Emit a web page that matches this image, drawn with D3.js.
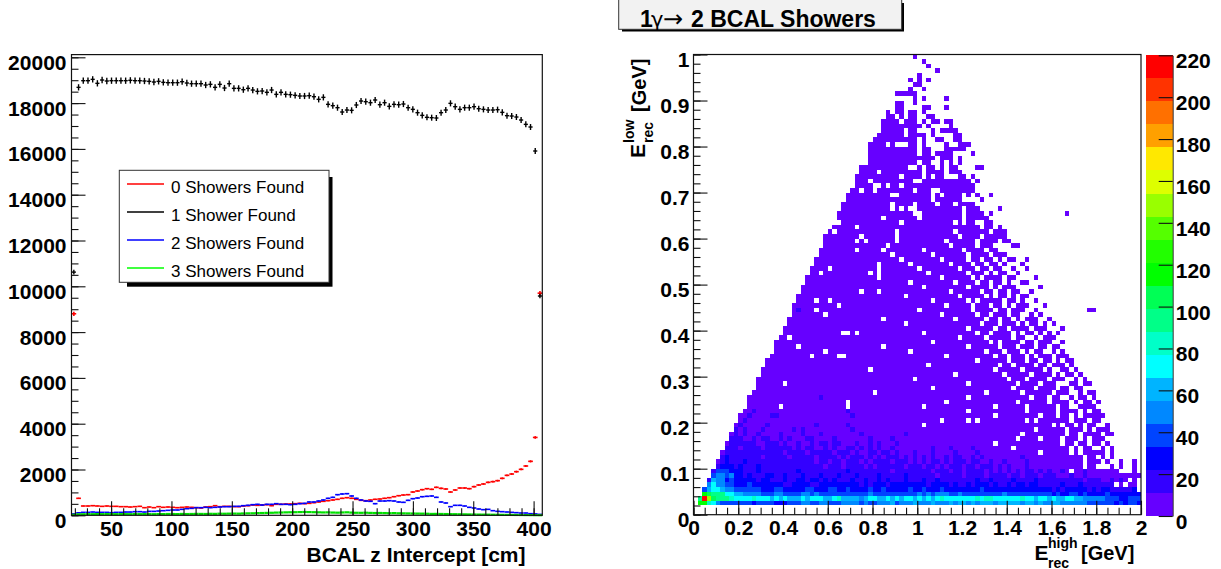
<!DOCTYPE html>
<html>
<head>
<meta charset="utf-8">
<script src="https://cdn.jsdelivr.net/npm/d3@7"></script>
<style>
  body { margin: 0; background: #fff; }
  svg { display: block; }
  text { font-family: "Liberation Sans", Arial, sans-serif; fill: #000; }
  .bold text, text.bold { font-weight: bold; font-size: 21px; }
</style>
</head>
<body>
<svg id="chart" width="1221" height="569"></svg>
<script>
// ---- left plot: one value per z bin (100 bins, 3.9 cm wide, first edge 17.2 cm)
const zBinStart = 17.2;
const zBinWidth = 3.9;

const zeroShowers = [
  8800, 741, 406, 406, 420, 406, 391, 406, 391, 391,
  377, 377, 362, 377, 391, 333, 362, 333, 377, 348,
  362, 348, 333, 348, 362, 348, 333, 319, 362, 377,
  420, 377, 391, 391, 377, 377, 406, 420, 450, 435,
  450, 464, 420, 479, 479, 493, 493, 508, 522, 508,
  522, 552, 581, 610, 639, 668, 697, 741, 770, 741,
  697, 653, 639, 668, 697, 712, 741, 770, 813, 857,
  886, 901, 1017, 1061, 1119, 1163, 1134, 1221, 1177, 1148,
  1017, 1105, 1192, 1192, 1163, 1250, 1323, 1367, 1439, 1469,
  1512, 1614, 1745, 1803, 1905, 2007, 2153, 2356, 3400, 9700
];
const oneShower = [
  10620, 18688, 18979, 18979, 19037, 18863, 19008, 18965, 18979, 18979,
  18979, 18979, 18994, 18979, 18979, 18965, 18950, 18921, 18950, 18906,
  18892, 18892, 18892, 18935, 18877, 18848, 18848, 18848, 18790, 18819,
  18688, 18819, 18659, 18848, 18644, 18644, 18586, 18644, 18571, 18513,
  18528, 18470, 18571, 18382, 18470, 18382, 18368, 18339, 18310, 18310,
  18324, 18280, 18164, 18251, 17946, 17888, 17800, 17611, 17698, 17684,
  17917, 18091, 18062, 18018, 18135, 17931, 18018, 17858, 17946, 17931,
  17960, 17800, 17727, 17582, 17465, 17378, 17363, 17349, 17582, 17698,
  17989, 17844, 17727, 17800, 17800, 17844, 17756, 17727, 17698, 17698,
  17713, 17596, 17451, 17436, 17393, 17262, 17072, 16956, 15908, 9576
];
const twoShowers = [
  60, 110, 129, 129, 143, 129, 129, 129, 115, 129,
  129, 143, 143, 158, 158, 143, 172, 172, 187, 201,
  216, 231, 231, 260, 289, 303, 333, 333, 348, 333,
  348, 362, 377, 377, 391, 391, 420, 435, 464, 479,
  450, 479, 479, 508, 479, 479, 464, 479, 508, 522,
  581, 581, 624, 668, 741, 784, 901, 930, 945, 843,
  741, 668, 624, 610, 508, 624, 624, 639, 624, 581,
  566, 653, 726, 755, 813, 828, 843, 784, 581, 537,
  377, 435, 435, 406, 348, 319, 275, 246, 260, 202,
  173, 158, 144, 129, 115, 100, 100, 71, 60, 40
];
const threeShowers = [
  20, 40, 45, 50, 48, 52, 50, 55, 50, 48,
  52, 50, 48, 55, 50, 52, 50, 48, 55, 52,
  58, 55, 52, 60, 55, 58, 62, 60, 58, 65,
  62, 70, 68, 72, 75, 72, 80, 85, 88, 95,
  100, 105, 110, 118, 122, 128, 132, 135, 140, 144,
  140, 135, 130, 125, 128, 120, 115, 125, 130, 118,
  110, 108, 112, 105, 100, 102, 98, 92, 95, 88,
  85, 82, 78, 75, 72, 68, 60, 62, 58, 55,
  50, 48, 45, 42, 38, 35, 32, 30, 28, 25,
  22, 20, 18, 16, 14, 12, 10, 8, 6, 4
];
const legendLabels = ["0 Showers Found", "1 Shower Found", "2 Showers Found", "3 Showers Found"];
const legendColors = ["#ff0000", "#000000", "#0000ff", "#00ff00"];

const leftYTicks = [0, 2000, 4000, 6000, 8000, 10000, 12000, 14000, 16000, 18000, 20000];
const leftXTicks = [50, 100, 150, 200, 250, 300, 350, 400];

// ---- right plot: 100x100 bins, 0.02 x 0.01 GeV. Level = colour band (1..20, base 21 digit)
const bandColors = [
  "#6600ff", "#3300ff", "#0000ff", "#0044ff", "#0088ff",
  "#00b4ff", "#00ffff", "#00ffc8", "#00ff88", "#00ff55",
  "#00ff00", "#22ff00", "#55ff00", "#99ff00", "#ddff00",
  "#ffe800", "#ffa000", "#ff7000", "#ff3300", "#ff0000"
];
const colorTicks = [0, 20, 40, 60, 80, 100, 120, 140, 160, 180, 200, 220];

// bottom rows, iy = 2.. going up, one char per x bin
const lowRows = [
  ".bb8754444 4443444433 3444554455 4445555454 4555645556 5556555656 6565666566 6665665655 6655555544 4444343443",
  ".9kea99987 7778777676 7666767776 6786666567 7667676776 7676787777 7778788777 7778776776 7667766555 5544433444",
  "..ba999776 6555544455 4444554544 4444444445 4444444444 5454555445 4444444445 4444444444 3433443433 3343333333",
  "..46776554 4444433344 3333344333 4433433334 3343333343 3433343333 3333433333 3333333333 2323333323 233222223.",
  "...5755443 3343333333 2233332233 3333333232 3332333333 3323333232 2323332322 3233233222 2232223222 2222.1.11.",
  "...2655343 3333233222 3223323323 2322232232 2323222322 2322322222 2223223222 2322223222 2222222122 2112121.1.",
  "....455453 3232223322 3222322232 2232223222 2322222322 2222122222 1222212222 1221222122 2111211211 1111111111",
  "....244433 3222322222 2223222222 2222322222 2222122222 2221222122 1222212121 2121221212 1121.11211 11111...1.",
  ".....23332 3222322222 2222222221 2221222212 1222222122 2122121222 1221222121 2111211111 1111111.11 ...1.1..1.",
  ".....12322 2322222222 2222222122 1221222121 2222122212 1212212122 2122112112 1111211111 1111111.11 1.1..1..1.",
  "......2322 2222212222 2122222122 2212122212 1212221212 1212112122 1121211111 1112111111 1111111.11 .1.1......",
  "......1222 2222222222 1222212222 2122212112 2122121112 1112111121 1112111111 1111111.11 1111.1.111 11.1......",
  ".......222 1222212222 2212122112 1211221212 1211211111 1112111211 1121111111 1.11111111 1111.1.11. .1.1......",
  ".......122 2222112221 2112112122 1221112112 1211121111 1111111111 1111111.11 1111111111 11.11.11.1 1.1.......",
  "........22 2112122112 1211122111 1211111112 1111211111 1111111111 1111111111 11.1111.11 11.111.1.1 11........",
  "........12 1211211112 1111211121 1111111211 1111111211 1111111111 1111111111 111.111111 111.11.111 1.11......",
  ".........2 1211121111 1121211111 1111121111 1111111111 1111111111 1111111111 111111.111 111.111.1. 111.......",
  ".........1 2111112111 1111111211 1111211111 1111111111 1.11111111 1111111111 1111111111 .1.11.1.11 ..1.......",
  ".......... 1211111111 1111111111 1111111111 1111111111 11111.1111 1.1.111111 1111.1.111 1111.111.1 1.........",
  ".......... 1121111221 1111111111 1111121111 1111111111 1111111111 1111111.11 1111111.11 1.11.1.111 11........",
  ".......... .112111111 1111111111 1111211111 1111111111 1111111111 1.11111111 1111.11111 1.1111.1.1 1........."
];
const lowRowStart = 2;

// upper rows: [iy, filled x bin spans], all in the lowest colour band
const upperRows = [
  [23, "12-18 20-33 35-50 52-66 68-73 75-80 82-83 86-89"], [24, "12-33 35-55 57-71 73-78 80-83 85 87-88 90"],
  [25, "12-60 62-74 76-78 80-81 84 86-87 89"], [26, "13-39 41-64 66-72 74-79 81-83 86 88-89"],
  [27, "14-52 54-70 72-75 77-80 82-83 85-86"], [28, "14-19 21-60 62-71 73-76 78-80 84-85 87-88"],
  [29, "14-48 50-69 71-73 75-78 80-82 85 87"], [30, "15-57 59-68 70-74 76-79 81 83-84 86"],
  [31, "15-38 40-66 68-72 74-77 79 82-83 85"], [32, "16-51 53-67 69-70 72-75 77-78 80-82 84"],
  [33, "16-62 64-69 71-73 75-76 78-79 81 83-84"], [34, "17-25 27-31 34-55 57-66 68-69 71-73 75 77-79 81-83"],
  [35, "18-28 30-47 49-64 66-68 70-72 74 76-77 80 82"], [36, "18-22 24-41 43-60 62-67 69-71 73-75 77-78 80-81"],
  [37, "18-52 54-65 67 69-72 74-75 77-79 82"], [38, "19-20 22-58 60-64 66-70 72-73 76 78-80"],
  [39, "20-32 35 37-50 52-62 64-65 67-70 72 74-75 77 79 81"], [40, "20-60 62-66 68-69 71-74 76-78 82"],
  [41, "21-46 48-63 65-67 69-71 73 75-76 78 80"], [42, "21-41 43-57 59-64 66-67 69-70 72 74-76 79"],
  [43, "22-28 30-54 56-62 64-65 67-69 71-72 75 77"], [44, "22-26 28-49 51-61 63-66 68-69 71-73 76 88-89"],
  [45, "22-31 33-55 57-61 63-65 67-68 70 72-74 78"], [46, "23-26 28-29 31-52 54-60 62 64-68 70-71 73 76"],
  [47, "23-46 48-58 60-64 66 68-69 71 73-74"], [48, "24-36 38-40 42-56 58-63 65-66 68-69 71-72 75"],
  [49, "24-50 52-60 62-65 67 69-71 77"], [50, "25-47 49-57 59-62 64-65 67-68 70 73-74"],
  [51, "25-40 42-54 56-61 63 65-68 70-71 76"], [52, "26-27 29-38 40 42-51 53-60 62-64 66 68-69 72"],
  [53, "26-29 31-40 42-49 51-58 60-62 64-65 67-68 71 74"], [54, "27-40 42-47 49-56 58-61 63-64 66-67 69 73"],
  [55, "27-45 47-54 56-60 62-63 65-66 68 70-71 74"], [56, "28-43 45-52 54-60 62-65 67-69"],
  [57, "28-35 37-41 43-50 52-59 61-64 66-67"], [58, "29-42 44-56 58-62 64-66 71-72"],
  [59, "29-35 37 39-44 46-55 57-62 64-67 69-70"], [60, "29-36 38-44 46-58 60-63 65-69"],
  [61, "30 32-44 46-57 59-65 67-69"], [62, "31-35 37-63 65-66 68"],
  [63, "33-45 47-57 59 61-62 65-66"], [64, "32-41 43-49 51-59 61-65"],
  [65, "32-48 51-59 61-64 66 83"], [66, "33-43 45 47 50-59 61-63 68"],
  [67, "33-43 45-48 50-53 55-57 59-62"], [68, "34-52 54-59 64"],
  [69, "34-43 46-52 54 56-59 61 63 66"], [70, "35-36 38-39 41-48 50-52 55-61 62"],
  [71, "36-39 42 44-45 47-62"], [72, "36-38 40-48 51-61 63"],
  [73, "36-45 47-50 52 54-55 59-60 62"], [74, "37-40 42-50 52-55 57-59"],
  [75, "37-47 50 52-53 55 57-58 63-64"], [76, "39-49 51-52 55 57 59"],
  [77, "39-53 55-57 59"], [78, "39-49 51-52 54-57 62"],
  [79, "39-49 51-52 56-60"], [80, "39-42 44 48-49 51 56 59-61"],
  [81, "40-49 51 54-55 58-59"], [82, "41-46 48-51 53 58-59"],
  [83, "42-46 48-49 53 55-58"], [84, "42-50 52 57"],
  [85, "42-45 47-49 51 53-54 56-57"], [86, "43-44 46 48-49 52-53"],
  [87, "43 45-46 48-49 51"], [88, "45-46 51-52 56"],
  [89, "45-46 49"], [90, "49 51 56"],
  [91, "45-49"], [92, "48 51"],
  [93, "49-50"], [94, "48 50 52"],
  [95, "50"], [96, "54"],
  [97, "52"], [98, "51"],
  [99, "49"]
];
// few second band cells above the low rows [ix, iy]
const upperBand2 = [[19, 23], [28, 25], [23, 44]];

// ---- layout
const svg = d3.select("#chart");

const xLeft = d3.scaleLinear().domain([zBinStart, zBinStart + 100 * zBinWidth]).range([71.5, 542.3]);
const yLeft = d3.scaleLinear().domain([0, 20118]).range([515.3, 54.6]);
const xRight = d3.scaleLinear().domain([0, 2]).range([693.5, 1141]);
const yRight = d3.scaleLinear().domain([0, 1]).range([514.7, 54.5]);
const zAxisScale = d3.scaleLinear().domain([0, 220]).range([516, 55.3]);

function styleLabels(g, yOffset, isX) {
  g.select(".domain").remove();
  g.selectAll("line").attr("stroke", "#111").attr("stroke-width", 1.1);
  g.selectAll("text").attr("class", "bold").attr("dy", 0);
  if (isX) g.selectAll("text").attr("y", yOffset);
  else g.selectAll("text").attr("y", yOffset);
}

function drawAxes(xs, ys, xMajor, xMinor, yMajor, yMinor, xFmt, yFmt, xOff, yPad) {
  const h = ys.range()[0];
  const l = xs.range()[0];
  svg.append("g").attr("transform", `translate(0,${h})`)
    .call(d3.axisBottom(xs).tickValues(xMinor).tickSizeInner(-7).tickSizeOuter(0).tickFormat(""))
    .call(styleLabels, 0, true);
  svg.append("g").attr("transform", `translate(0,${h})`)
    .call(d3.axisBottom(xs).tickValues(xMajor).tickSizeInner(-14).tickSizeOuter(0).tickPadding(0).tickFormat(xFmt))
    .call(styleLabels, xOff, true);
  svg.append("g").attr("transform", `translate(${l},0)`)
    .call(d3.axisLeft(ys).tickValues(yMinor).tickSizeInner(-7).tickSizeOuter(0).tickFormat(""))
    .call(styleLabels, 0, false);
  svg.append("g").attr("transform", `translate(${l},0)`)
    .call(d3.axisLeft(ys).tickValues(yMajor).tickSizeInner(-14).tickSizeOuter(0).tickPadding(yPad).tickFormat(yFmt))
    .call(styleLabels, 12, false);
  // frame
  svg.append("rect")
    .attr("x", l).attr("y", ys.range()[1])
    .attr("width", xs.range()[1] - l).attr("height", h - ys.range()[1])
    .attr("fill", "none").attr("stroke", "#111").attr("stroke-width", 1.2);
}

// ---- left plot
function drawCrosses(values, color, sw, halfWidth) {
  const g = svg.append("g").attr("stroke", color).attr("stroke-width", sw);
  const binCenter = i => zBinStart + (i + 0.5) * zBinWidth;
  g.selectAll("line.h").data(values).join("line").attr("class", "h")
    .attr("x1", (d, i) => xLeft(binCenter(i) - zBinWidth * halfWidth))
    .attr("x2", (d, i) => xLeft(binCenter(i) + zBinWidth * halfWidth))
    .attr("y1", d => yLeft(d)).attr("y2", d => yLeft(d));
  g.selectAll("line.v").data(values).join("line").attr("class", "v")
    .attr("x1", (d, i) => xLeft(binCenter(i))).attr("x2", (d, i) => xLeft(binCenter(i)))
    .attr("y1", d => yLeft(d - Math.sqrt(d))).attr("y2", d => yLeft(d + Math.sqrt(d)));
}

drawCrosses(zeroShowers, "#ff0000", 1.6, 0.5);
drawCrosses(oneShower, "#000", 1.4, 0.44);
drawCrosses(twoShowers, "#0000ff", 1.6, 0.5);
drawCrosses(threeShowers, "#00e000", 2.2, 0.5);

drawAxes(xLeft, yLeft, leftXTicks, d3.range(20, 407, 10), leftYTicks, d3.range(0, 20001, 500),
  d3.format("d"), d3.format("d"), 21, 5);

svg.append("text").attr("class", "bold").attr("x", 525.5).attr("y", 562)
  .attr("text-anchor", "end").text("BCAL z Intercept [cm]");

// legend
svg.append("rect").attr("x", 127).attr("y", 177).attr("width", 205.5).attr("height", 109.7).attr("fill", "#000");
svg.append("rect").attr("x", 119.3).attr("y", 170.3).attr("width", 209.7).attr("height", 112)
  .attr("fill", "#fff").attr("stroke", "#333").attr("stroke-width", 1);
const legendRow = svg.selectAll("g.legend").data(legendLabels).join("g").attr("class", "legend")
  .attr("transform", (d, i) => `translate(0,${184 + i * 28})`);
legendRow.append("line").attr("x1", 127).attr("x2", 164)
  .attr("stroke", (d, i) => legendColors[i]).attr("stroke-width", 1.3);
legendRow.append("text").attr("x", 171).attr("y", 8.8).attr("font-size", 17).text(d => d);

// ---- right plot
function parseSpans(spec) {
  return spec.split(" ").flatMap(s => {
    const [a, b] = s.split("-").map(Number);
    return d3.range(a, (b === undefined ? a : b) + 1);
  });
}

const cells = [];
lowRows.forEach((row, r) => {
  Array.from(row.replace(/ /g, "")).forEach((c, ix) => {
    if (c !== ".") cells.push({ ix, iy: lowRowStart + r, level: parseInt(c, 21) });
  });
});
upperRows.forEach(([iy, spec]) => {
  parseSpans(spec).forEach(ix => {
    const band2 = upperBand2.some(p => p[0] === ix && p[1] === iy);
    cells.push({ ix, iy, level: band2 ? 2 : 1 });
  });
});

svg.append("g").attr("shape-rendering", "crispEdges")
  .selectAll("rect").data(cells).join("rect")
  .attr("x", d => xRight(d.ix * 0.02))
  .attr("y", d => yRight((d.iy + 1) * 0.01))
  .attr("width", d => xRight((d.ix + 1) * 0.02) - xRight(d.ix * 0.02))
  .attr("height", d => yRight(d.iy * 0.01) - yRight((d.iy + 1) * 0.01))
  .attr("fill", d => bandColors[d.level - 1]);

drawAxes(xRight, yRight,
  [0, 0.2, 0.4, 0.6, 0.8, 1, 1.2, 1.4, 1.6, 1.8, 2], d3.range(0, 2.001, 0.05),
  [0, 0.1, 0.2, 0.3, 0.4, 0.5, 0.6, 0.7, 0.8, 0.9, 1], d3.range(0, 1.001, 0.02),
  d => d, d => d, 20, 4);

// axis titles with sub/superscripts
const xTitle = svg.append("g");
xTitle.append("text").attr("class", "bold").attr("x", 1034.5).attr("y", 560).text("E");
xTitle.append("text").attr("x", 1048).attr("y", 548).attr("font-size", 14).attr("font-weight", "bold").text("high");
xTitle.append("text").attr("x", 1048).attr("y", 567.5).attr("font-size", 14).attr("font-weight", "bold").text("rec");
xTitle.append("text").attr("x", 1081).attr("y", 560).attr("font-size", 20).attr("font-weight", "bold").text("[GeV]");

const yTitle = svg.append("g");
yTitle.append("text").attr("transform", "translate(645,158) rotate(-90)").attr("class", "bold").text("E");
yTitle.append("text").attr("transform", "translate(634,143) rotate(-90)").attr("font-size", 14).attr("font-weight", "bold").text("low");
yTitle.append("text").attr("transform", "translate(653,143) rotate(-90)").attr("font-size", 14).attr("font-weight", "bold").text("rec");
yTitle.append("text").attr("transform", "translate(646,112) rotate(-90)").attr("font-size", 20).attr("font-weight", "bold").text("[GeV]");

// colour bar
const bandStep = 220 / bandColors.length;
svg.append("g").attr("shape-rendering", "crispEdges")
  .selectAll("rect").data(bandColors).join("rect")
  .attr("x", 1146).attr("width", 26.7)
  .attr("y", (d, i) => zAxisScale((i + 1) * bandStep))
  .attr("height", (d, i) => zAxisScale(i * bandStep) - zAxisScale((i + 1) * bandStep))
  .attr("fill", d => d);
svg.append("g").attr("transform", "translate(1172.7,0)")
  .call(d3.axisRight(zAxisScale).tickValues(colorTicks).tickSizeInner(-14).tickSizeOuter(0).tickPadding(3))
  .call(g => {
    g.select(".domain").attr("stroke", "#333");
    g.selectAll("line").attr("stroke", "#111").attr("stroke-width", 1.1);
    g.selectAll("text").attr("class", "bold").attr("dy", 0).attr("y", 12.5);
  });

// title box
svg.append("rect").attr("x", 622).attr("y", 3).attr("width", 282).attr("height", 28.5).attr("fill", "#000");
svg.append("rect").attr("x", 618.7).attr("y", -1).attr("width", 283).attr("height", 30.3)
  .attr("fill", "#f2f2f2").attr("stroke", "#333").attr("stroke-width", 1);
const title = svg.append("text").attr("y", 26.7).attr("font-size", 23).attr("font-weight", "bold");
title.append("tspan").attr("x", 640).text("1");
title.append("tspan").attr("x", 651).attr("font-family", "DejaVu Sans").attr("font-weight", "normal").attr("font-size", 21).text("γ");
title.append("tspan").attr("x", 663).attr("font-family", "DejaVu Sans").attr("font-weight", "normal").attr("font-size", 24).text("→");
title.append("tspan").attr("x", 691).text("2 BCAL Showers");
</script>
</body>
</html>
